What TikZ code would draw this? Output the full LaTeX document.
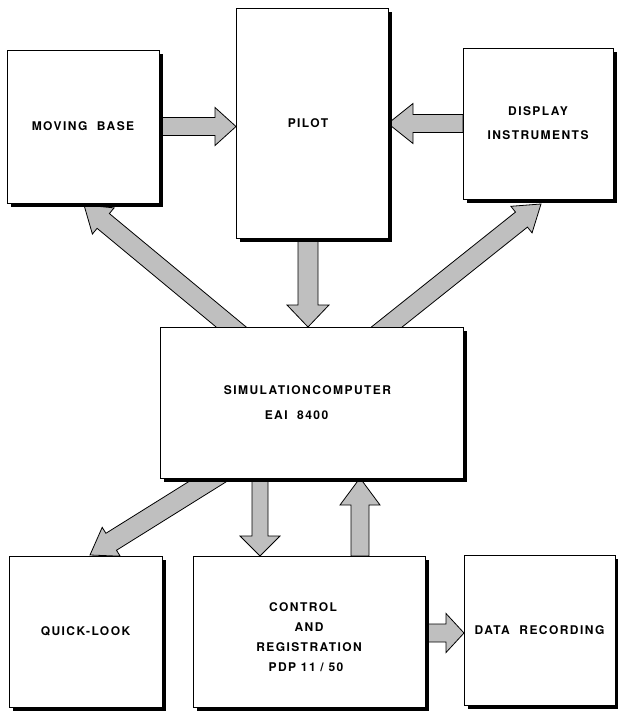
\documentclass[tikz,border=0pt]{standalone}
\usepackage{fontspec}
\setmainfont{TeX Gyre Heros}[LetterSpace=12]
\usetikzlibrary{calc}

\pgfdeclarelayer{arrowlayer}
\pgfsetlayers{arrowlayer,main}

\tikzset{
  box/.style={draw, line width=0.9pt, fill=white, anchor=north west,
    inner sep=0pt, outer sep=0pt, align=center},
  fat/.style={draw, line width=0.8pt, fill=black!25, line join=miter},
  shadowline/.style={draw=black, line width=4.5pt, line join=miter, line cap=butt}
}

% fat arrow: from, to, half shaft width, half head width, head length
\newcommand\fatarr[5]{%
  \coordinate (fa-h) at ($(#2)!#5!(#1)$);
  \filldraw[fat] ($(#1)!#3!90:(#2)$) -- ($(fa-h)!#3!90:(#2)$) -- ($(fa-h)!#4!90:(#2)$)
    -- (#2) -- ($(fa-h)!#4!-90:(#2)$) -- ($(fa-h)!#3!-90:(#2)$) -- ($(#1)!#3!-90:(#2)$) -- cycle;}
\newcommand\boxshadow[1]{%
  \draw[shadowline] ($(#1.north east)+(2.2,4)$) -- ($(#1.south east)+(2.2,2.2)$) -- ($(#1.south west)+(4,2.2)$);}

\begin{document}
\begin{tikzpicture}[x=1pt,y=-1pt]
\useasboundingbox (0,0) rectangle (618,712);

\node[box, minimum width=152pt, minimum height=153pt, font=\bfseries\fontsize{12}{20}\selectfont] (mb) at (7,50) {MOVING\ \ BASE};
\node[box, minimum width=152pt, minimum height=230pt, font=\bfseries\fontsize{12}{20}\selectfont] (pilot) at (236,8) {PILOT\hspace*{8pt}};
\node[box, minimum width=150pt, minimum height=151pt, font=\bfseries\fontsize{12}{24}\selectfont] (disp) at (463,48) {DISPLAY\\INSTRUMENTS};
\node[box, minimum width=303pt, minimum height=151pt, font=\bfseries\fontsize{12}{25}\selectfont] (sim) at (160,327) {SIMULATIONCOMPUTER\hspace*{8pt}\\EAI\ \ 8400\hspace*{30pt}};
\node[box, minimum width=153pt, minimum height=151pt, font=\bfseries\fontsize{12}{20}\selectfont] (ql) at (9,556) {QUICK-LOOK};
\node[box, minimum width=232pt, minimum height=151pt, font=\bfseries\fontsize{12}{20}\selectfont] (ctrl) at (193,556) {\rule{0pt}{20pt}CONTROL\hspace*{12pt}\\AND\hspace*{20pt}\\REGISTRATION\\PDP 11 / 50\hspace*{6pt}};
\node[box, minimum width=151pt, minimum height=150pt, font=\bfseries\fontsize{12}{20}\selectfont] (data) at (464,555) {DATA\ \ RECORDING};

\boxshadow{mb}
\boxshadow{pilot}
\boxshadow{disp}
\boxshadow{sim}
\boxshadow{ql}
\boxshadow{ctrl}
\boxshadow{data}

\begin{pgfonlayer}{arrowlayer}
  \coordinate (a1s) at (mb.east);
  \coordinate (a1e) at (pilot.west |- mb.east);
  \fatarr{a1s}{a1e}{9pt}{19pt}{21pt}

  \coordinate (a2s) at (disp.west);
  \coordinate (a2e) at (pilot.east |- disp.west);
  \fatarr{a2s}{a2e}{9pt}{20pt}{25pt}

  \coordinate (a3s) at ($(pilot.south)+(-4,0)$);
  \coordinate (a3e) at (a3s |- sim.north);
  \fatarr{a3s}{a3e}{10pt}{21pt}{22pt}

  \coordinate (a4e) at ($(ctrl.north west)+(67,0)$);
  \coordinate (a4s) at (a4e |- sim.south);
  \fatarr{a4s}{a4e}{8pt}{20pt}{20pt}

  \coordinate (a5s) at ($(ctrl.north west)+(167,0)$);
  \coordinate (a5e) at (a5s |- sim.south);
  \fatarr{a5s}{a5e}{9pt}{20pt}{27pt}

  \coordinate (a6s) at ($(ctrl.east)+(0,1.5)$);
  \coordinate (a6e) at (data.west |- a6s);
  \fatarr{a6s}{a6e}{9pt}{19.5pt}{18pt}

  \coordinate (a7s) at ($(sim.north west)+(82,9)$);
  \coordinate (a7e) at ($(mb.south west)+(77,2)$);
  \fatarr{a7s}{a7e}{9.6pt}{17pt}{25pt}

  \coordinate (a8s) at ($(sim.north west)+(215.5,9)$);
  \coordinate (a8e) at ($(disp.south west)+(78,5)$);
  \fatarr{a8s}{a8e}{9.6pt}{17pt}{25pt}

  \coordinate (a9s) at ($(sim.south west)+(63,-6)$);
  \coordinate (a9e) at ($(ql.north west)+(81,-1)$);
  \fatarr{a9s}{a9e}{10pt}{17pt}{25pt}
\end{pgfonlayer}
\end{tikzpicture}
\end{document}
